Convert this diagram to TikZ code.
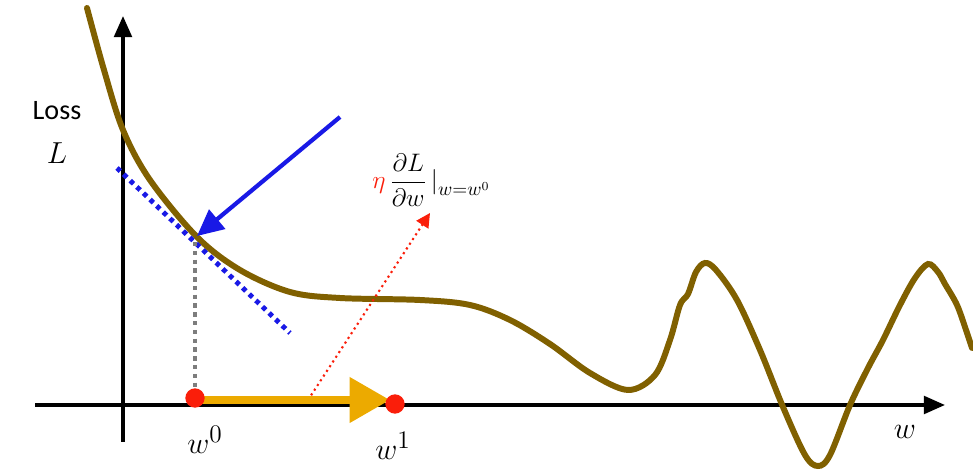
\documentclass[tikz,border=0pt]{standalone}
\usepackage{fontspec}
\setsansfont{Carlito}
\usetikzlibrary{arrows.meta}
\definecolor{curvec}{RGB}{128,96,0}
\definecolor{bluec}{RGB}{25,25,230}
\definecolor{orangec}{RGB}{236,170,0}
\definecolor{redc}{RGB}{250,30,10}
\definecolor{grayc}{RGB}{125,125,125}
\begin{document}
\begin{tikzpicture}[x=0.02cm,y=-0.02cm,
  axis/.style={line width=2pt,-{Triangle[length=12pt,width=10pt]}},
  curvestyle/.style={curvec,line width=3.4pt,line cap=round},
  dotnode/.style={circle,fill=redc,inner sep=0pt,minimum size=11pt},
  mathlbl/.style={font=\fontsize{19}{21}\selectfont,inner sep=0pt},
  lbl/.style={inner sep=0pt}]
\useasboundingbox (0,0) rectangle (973,475);
% axes
\coordinate (xs) at (35,405);
\coordinate (xe) at (945,405);
\coordinate (ys) at (123,442);
\coordinate (ye) at (123,16);
\draw[axis] (xs) -- (xe);
\draw[axis] (ys) -- (ye);
% curve
\draw[curvestyle] plot[smooth,tension=0.55] coordinates {
 (87,8) (104,70) (123,130) (150,180) (197,237) (240,270) (290,292) (340,298)
 (420,300) (470,305) (510,320) (550,344) (590,373) (628,390) (655,375)
 (670,340) (680,305) (688,294) (696,272) (705,263) (716,270) (737,300)
 (760,350) (783,407) (805,455) (818,466) (830,455) (850,405) (868,368)
 (883,340) (900,305) (915,278) (928,264) (938,272) (945,284) (957,305) (966,330) (972,348)};
% tangent point
\coordinate (tp) at (197,236);
\coordinate (t1) at (117,168);
\coordinate (t2) at (290,333);
\draw[bluec,line width=2.8pt,dash pattern=on 2.6pt off 2.6pt] (t1) -- (t2);
\coordinate (bs) at (340,117);
\draw[bluec,line width=2.4pt,-{Triangle[length=15pt,width=14pt]}] (bs) -- (tp);
% gray dotted
\coordinate (g1) at (195,242);
\coordinate (g2) at (195,392);
\draw[grayc,line width=2.3pt,dash pattern=on 2.5pt off 2.5pt] (g1) -- (g2);
% labels
\node[lbl,font=\sffamily\fontsize{16}{18}\selectfont] (loss) at (57,111) {Loss};
\node[mathlbl] (L) at (57,153) {$L$};
\node[mathlbl] (w0l) at (205,440) {$w^0$};
\node[mathlbl] (w1l) at (393,446) {$w^1$};
\node[mathlbl] (wl) at (905,432) {$w$};
\node[lbl,font=\fontsize{15}{17}\selectfont,anchor=west] (grad) at (372,180)
  {$\textcolor{redc}{\eta}\,\displaystyle\frac{\partial L}{\partial w}\,\big|_{w=w^0}$};
% red dotted arrow
\coordinate (rs) at (308,400);
\coordinate (re) at (430,213);
\draw[redc,line width=1.2pt,dotted,-{Triangle[length=8pt,width=8pt,sep=0pt]}] (rs) -- (re);
% orange step
\coordinate (a0) at (197,400);
\coordinate (a1) at (390,400);
\draw[orangec,line width=4.5pt,-{Triangle[length=23pt,width=25pt]}] (a0) -- (a1);
% dots
\node[dotnode] (w0) at (195,398) {};
\node[dotnode] (w1) at (395,404) {};
\end{tikzpicture}
\end{document}
